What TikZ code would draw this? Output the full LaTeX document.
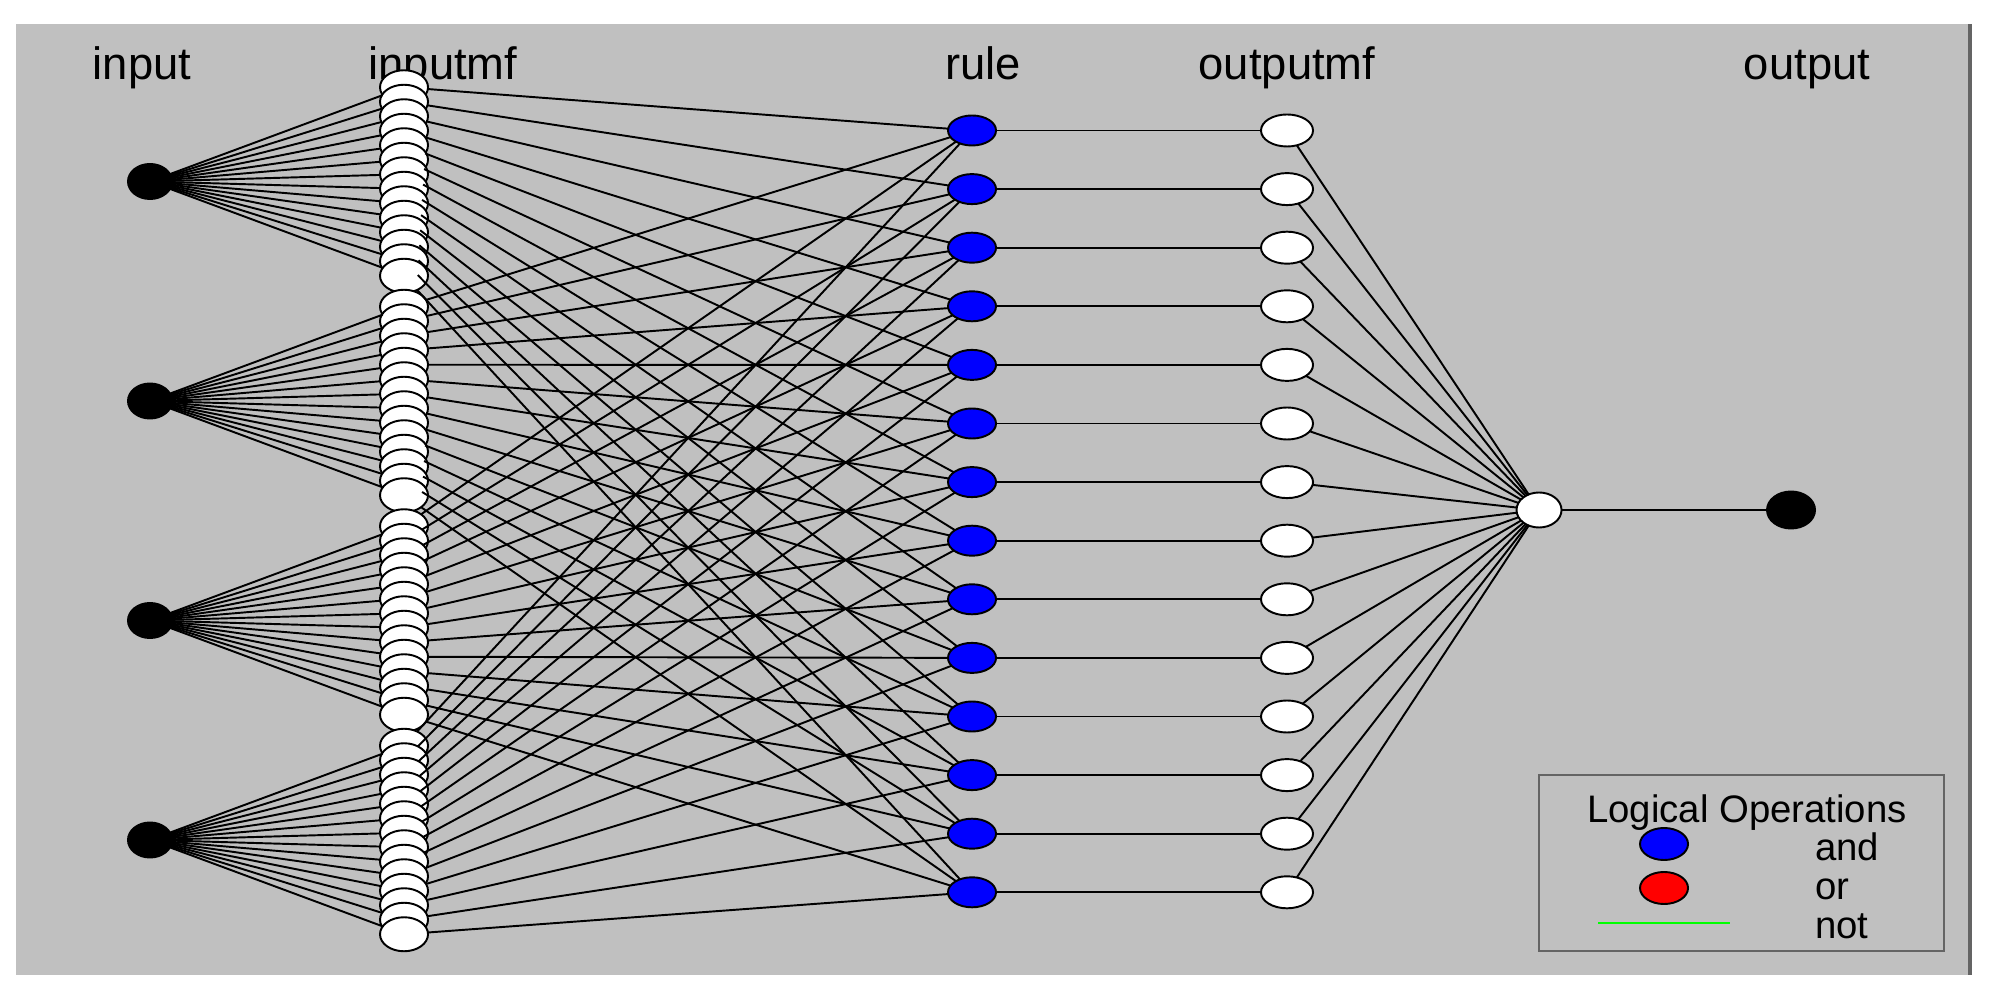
\documentclass[tikz,border=0pt]{standalone}
\usepackage{fontspec}
\setmainfont{Liberation Sans}
\usetikzlibrary{shapes.geometric}
\definecolor{figgrey}{RGB}{192,192,192}
\definecolor{framegrey}{RGB}{100,100,100}
\definecolor{notgreen}{RGB}{0,255,0}

\begin{document}
\begin{tikzpicture}[x=0.01cm, y=-0.01cm,
    every node/.style={inner sep=0pt, outer sep=0pt},
    nd/.style={ellipse, draw=black, line width=0.55pt},
    innode/.style={nd, fill=black, minimum width=0.44cm, minimum height=0.35cm},
    mfnode/.style={nd, fill=white, minimum width=0.48cm, minimum height=0.34cm},
    andnode/.style={nd, fill=blue, minimum width=0.48cm, minimum height=0.30cm},
    ornode/.style={nd, fill=red, minimum width=0.48cm, minimum height=0.32cm},
    outmfnode/.style={nd, fill=white, minimum width=0.52cm, minimum height=0.32cm},
    sumnode/.style={nd, fill=white, minimum width=0.45cm, minimum height=0.35cm},
    outnode/.style={nd, fill=black, minimum width=0.48cm, minimum height=0.37cm},
    title/.style={font=\fontsize{12.9}{15}\selectfont, anchor=base},
    legtext/.style={font=\fontsize{10.9}{13}\selectfont, anchor=base west},
    wire/.style={line width=0.55pt, black}]

    \useasboundingbox (0,0) rectangle (1992,998);
    \fill[figgrey] (16,24) rectangle (1971,975);
    \draw[framegrey, line width=0.9pt] (1970,24) -- (1970,975);

    % layer titles
    \node[title] (Tin) at (142,80) {input};
    \node[title] (Tmf) at (443,80) {inputmf};
    \node[title] (Tru) at (983,80) {rule};
    \node[title] (Tom) at (1287,80) {outputmf};
    \node[title] (Tout) at (1807,80) {output};

    % inputs with their membership functions
    \foreach \g in {1,...,4} {
        \node[innode] (I\g) at (150, {181.5+(\g-1)*219.5}) {};
        \foreach \i in {1,...,14}
            \node[mfnode] (M\g-\i) at (404, {181.5+(\g-1)*219.5+(\i-7.5)*14.5}) {};
    }

    % rules and output mfs
    \foreach \i in {1,...,14} {
        \node[andnode] (R\i) at (972, {130.5+(\i-1)*58.6}) {};
        \node[outmfnode] (Q\i) at (1287, {130.5+(\i-1)*58.6}) {};
    }
    \node[sumnode] (S) at (1539,510) {};
    \node[outnode] (O) at (1791,510) {};

    % connections
    \foreach \g in {1,...,4}
        \foreach \i in {1,...,14} {
            \path[wire] (I\g) edge (M\g-\i);
            \path[wire] (M\g-\i) edge (R\i);
        }
    \foreach \i in {1,...,14} {
        \path[wire] (R\i) edge (Q\i);
        \path[wire] (Q\i) edge (S);
    }
    \path[wire] (S) edge (O);

    % legend
    \node[draw=framegrey, line width=0.55pt, minimum width=4.05cm, minimum height=1.76cm] (Leg) at (1741.5,863) {};
    \node[legtext, anchor=base] (Lt) at (1747,822) {Logical Operations};
    \node[andnode, minimum height=0.32cm] (La) at (1664,844) {};
    \node[ornode] (Lo) at (1664,888) {};
    \coordinate (Ln1) at (1598,923);
    \coordinate (Ln2) at (1730,923);
    \draw[notgreen, line width=0.55pt] (Ln1) -- (Ln2);
    \node[legtext] (Land) at (1815,860) {and};
    \node[legtext] (Lor) at (1815,899) {or};
    \node[legtext] (Lnot) at (1815,938) {not};
\end{tikzpicture}
\end{document}
